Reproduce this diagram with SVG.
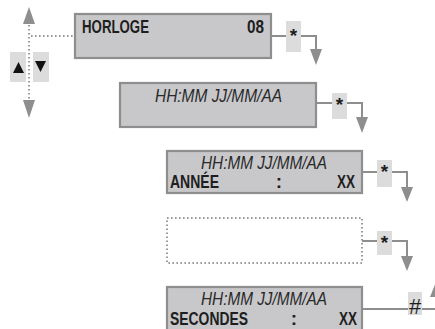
<svg xmlns="http://www.w3.org/2000/svg" width="435" height="329" viewBox="0 0 435 329">
<style>
.box{fill:#c8c8ca;stroke:#8e8e8e;stroke-width:2.2}
.dbox{fill:none;stroke:#9a9a9a;stroke-width:2;stroke-dasharray:1.6 2.4}
.key{fill:#dcdcdc}
.ln{fill:none;stroke:#8e8e8e;stroke-width:2}
.dot{fill:none;stroke:#9a9a9a;stroke-width:2;stroke-dasharray:1.6 2.4}
.ah{fill:#8e8e8e}
.t{font-family:"Liberation Sans Narrow","Liberation Sans",Arial,sans-serif;fill:#1e1e1e;font-size:19px;font-weight:bold}
.it{font-family:"Liberation Sans Narrow","Liberation Sans",Arial,sans-serif;fill:#2a2a2a;font-size:18px;font-style:italic}
.k{font-family:"Liberation Sans","DejaVu Sans",sans-serif;fill:#1e1e1e;font-weight:bold;font-size:19px}
</style>
<g id="nav">
  <rect class="key" x="10" y="52" width="16" height="30"/>
  <rect class="key" x="33" y="52" width="16" height="30"/>
  <polygon points="13,73 24,73 18.5,62" fill="#111"/>
  <polygon points="35,61 46,61 40.5,72" fill="#111"/>
  <polygon class="ah" points="29,7 23,24 35,24"/>
  <polygon class="ah" points="29,118 23,100 35,100"/>
</g>
<g id="connectors">
  <line class="dot" x1="29" y1="25" x2="29" y2="99"/>
  <line class="dot" x1="31" y1="36" x2="74" y2="36"/>
  <polyline class="ln" points="271,36 286,36"/>
  <polyline class="ln" points="301,36 316,36 316,51"/>
  <polygon class="ah" points="310,49 322,49 316,65"/>
  <polyline class="ln" points="316,103 332,103"/>
  <polyline class="ln" points="347,103 362,103 362,119"/>
  <polygon class="ah" points="356,117 368,117 362,133"/>
  <polyline class="ln" points="362,172 377,172"/>
  <polyline class="ln" points="392,172 407,172 407,189"/>
  <polygon class="ah" points="401,187 413,187 407,202"/>
  <polyline class="ln" points="362,241 377,241"/>
  <polyline class="ln" points="392,241 407,241 407,258"/>
  <polygon class="ah" points="401,256 413,256 407,271"/>
  <polyline class="ln" points="362,309 408,309"/>
  <polyline class="ln" points="422,309 435,309"/>
  <polygon class="ah" points="436,282 430,297 442,297"/>
</g>
<g id="keys">
  <rect class="key" x="286" y="21" width="15" height="31"/>
  <text class="k" x="293.5" y="42" text-anchor="middle">*</text>
  <rect class="key" x="332" y="93" width="15" height="26"/>
  <text class="k" x="339.5" y="111" text-anchor="middle">*</text>
  <rect class="key" x="377" y="160" width="15" height="27"/>
  <text class="k" x="384.5" y="178" text-anchor="middle">*</text>
  <rect class="key" x="377" y="231" width="15" height="24"/>
  <text class="k" x="384.5" y="249" text-anchor="middle">*</text>
  <rect class="key" x="408" y="292" width="14" height="23"/>
  <text x="415" y="314" text-anchor="middle" style="font-family:'Liberation Sans Narrow','Liberation Sans',sans-serif;font-size:22px;fill:#1e1e1e">#</text>
</g>
<g id="horloge">
  <rect class="box" x="75" y="14" width="196" height="44"/>
  <text class="t" x="82" y="33" textLength="67" lengthAdjust="spacingAndGlyphs">HORLOGE</text>
  <text class="t" x="247" y="33" textLength="17" lengthAdjust="spacingAndGlyphs">08</text>
</g>
<g id="datetime">
  <rect class="box" x="120" y="83" width="196" height="44"/>
  <text class="it" x="155" y="102" textLength="127" lengthAdjust="spacingAndGlyphs">HH:MM JJ/MM/AA</text>
</g>
<g id="annee">
  <rect class="box" x="167" y="151" width="195" height="42"/>
  <text class="it" x="201" y="169" textLength="126" lengthAdjust="spacingAndGlyphs">HH:MM JJ/MM/AA</text>
  <text class="t" x="170" y="188" textLength="49" lengthAdjust="spacingAndGlyphs">ANNÉE</text>
  <text class="t" x="279" y="188" text-anchor="middle">:</text>
  <text class="t" x="337" y="188" textLength="18" lengthAdjust="spacingAndGlyphs">XX</text>
</g>
<g id="empty">
  <rect class="dbox" x="167" y="218" width="195" height="45"/>
</g>
<g id="secondes">
  <rect class="box" x="167" y="287" width="195" height="45"/>
  <text class="it" x="201" y="305" textLength="126" lengthAdjust="spacingAndGlyphs">HH:MM JJ/MM/AA</text>
  <text class="t" x="170" y="325" textLength="78" lengthAdjust="spacingAndGlyphs">SECONDES</text>
  <text class="t" x="294" y="325" text-anchor="middle">:</text>
  <text class="t" x="339" y="325" textLength="18" lengthAdjust="spacingAndGlyphs">XX</text>
</g>
</svg>
